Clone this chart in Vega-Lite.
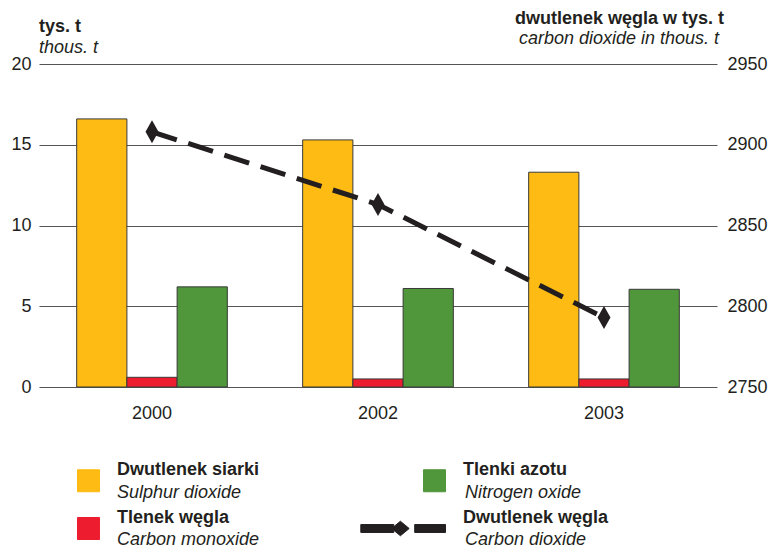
{
  "$schema": "https://vega.github.io/schema/vega-lite/v6.json",
  "width": 678,
  "height": 323,
  "autosize": {"type": "none"},
  "padding": {"left": 39, "top": 64, "right": 53, "bottom": 171},
  "background": "white",
  "config": {
    "font": "Liberation Sans",
    "view": {"stroke": null},
    "axis": {"labelColor": "#231F20", "titleColor": "#231F20", "labelFontSize": 18, "titleFontSize": 18}
  },
  "title": {
    "text": "tys. t",
    "subtitle": "thous. t",
    "anchor": "start",
    "frame": "group",
    "fontSize": 18,
    "fontWeight": "bold",
    "color": "#231F20",
    "subtitleFontSize": 18,
    "subtitleFontStyle": "italic",
    "subtitleColor": "#231F20",
    "subtitlePadding": 3,
    "offset": 8,
    "dy": 56
  },
  "datasets": {
    "bars": [
      {"year": "2000", "pl": "Dwutlenek siarki", "en": "Sulphur dioxide", "value": 16.6},
      {"year": "2000", "pl": "Tlenek węgla", "en": "Carbon monoxide", "value": 0.6},
      {"year": "2000", "pl": "Tlenki azotu", "en": "Nitrogen oxide", "value": 6.2},
      {"year": "2002", "pl": "Dwutlenek siarki", "en": "Sulphur dioxide", "value": 15.3},
      {"year": "2002", "pl": "Tlenek węgla", "en": "Carbon monoxide", "value": 0.5},
      {"year": "2002", "pl": "Tlenki azotu", "en": "Nitrogen oxide", "value": 6.1},
      {"year": "2003", "pl": "Dwutlenek siarki", "en": "Sulphur dioxide", "value": 13.3},
      {"year": "2003", "pl": "Tlenek węgla", "en": "Carbon monoxide", "value": 0.5},
      {"year": "2003", "pl": "Tlenki azotu", "en": "Nitrogen oxide", "value": 6.05}
    ],
    "co2": [
      {"year": "2000", "pl": "Dwutlenek węgla", "en": "Carbon dioxide", "value": 2908},
      {"year": "2002", "pl": "Dwutlenek węgla", "en": "Carbon dioxide", "value": 2863},
      {"year": "2003", "pl": "Dwutlenek węgla", "en": "Carbon dioxide", "value": 2793}
    ]
  },
  "encoding": {
    "x": {
      "field": "year",
      "type": "nominal",
      "scale": {"paddingInner": 0.3333, "paddingOuter": 0.1667},
      "axis": {
        "title": "carbon dioxide in thous. t",
        "titleFontStyle": "italic",
        "titleFontWeight": "normal",
        "titleX": 579.5,
        "titleY": -344,
        "titleAlign": "center",
        "titleBaseline": "alphabetic",
        "labelAngle": 0,
        "labelPadding": 17,
        "ticks": false,
        "domain": false
      }
    },
    "color": {
      "field": "pl",
      "type": "nominal",
      "scale": {
        "domain": ["Dwutlenek siarki", "Tlenek węgla", "Tlenki azotu", "Dwutlenek węgla"],
        "range": ["#FDBB13", "#ED1C2E", "#50963A", "#231F20"]
      },
      "legend": {
        "orient": "none",
        "legendX": 38,
        "legendY": 405,
        "columns": 2,
        "title": null,
        "padding": 0,
        "symbolType": "square",
        "symbolSize": 484,
        "symbolStrokeColor": "#3a3a3a",
        "symbolStrokeWidth": 1,
        "labelFontSize": 18,
        "labelFontWeight": "bold",
        "labelColor": "#231F20",
        "labelOffset": 17,
        "labelLimit": 400,
        "labelBaseline": "alphabetic",
        "columnPadding": 98,
        "rowPadding": 14,
        "encode": {
          "labels": {"update": {"dy": {"value": -6}}},
          "symbols": {"update": {
            "shape": {"signal": "datum.value === 'Dwutlenek węgla' ? 'M-6.7,-0.36L-3.7,-0.36L-3.7,0.36L-6.7,0.36ZM-3.9,0L-3.1,-0.66L-2.3,0L-3.1,0.66ZM-1.8,-0.36L1,-0.36L1,0.36L-1.8,0.36Z' : 'square'"},
            "opacity": {"value": 1}
          }}
        }
      }
    },
    "opacity": {
      "field": "en",
      "type": "nominal",
      "scale": {
        "domain": ["Sulphur dioxide", "Carbon monoxide", "Nitrogen oxide", "Carbon dioxide"],
        "range": [1, 1]
      },
      "legend": {
        "orient": "none",
        "legendX": 38,
        "legendY": 405,
        "columns": 2,
        "title": null,
        "padding": 0,
        "symbolType": "square",
        "symbolSize": 484,
        "symbolStrokeWidth": 1,
        "symbolFillColor": "transparent",
        "symbolStrokeColor": "transparent",
        "symbolOpacity": 0,
        "labelFontSize": 18,
        "labelFontStyle": "italic",
        "labelColor": "#231F20",
        "labelOffset": 17,
        "labelLimit": 400,
        "labelBaseline": "alphabetic",
        "columnPadding": 102,
        "rowPadding": 14,
        "encode": {
          "labels": {"update": {"dy": {"value": 17}}},
          "symbols": {"update": {
            "shape": {"signal": "datum.value === 'Carbon dioxide' ? 'M-6.7,-0.36L-3.7,-0.36L-3.7,0.36L-6.7,0.36ZM-3.9,0L-3.1,-0.66L-2.3,0L-3.1,0.66ZM-1.8,-0.36L1,-0.36L1,0.36L-1.8,0.36Z' : 'square'"},
            "opacity": {"value": 0},
            "fill": {"value": "transparent"},
            "stroke": {"value": "transparent"},
            "fillOpacity": {"value": 0},
            "strokeOpacity": {"value": 0}
          }}
        }
      }
    }
  },
  "layer": [
    {
      "data": {"name": "bars"},
      "mark": {"type": "bar", "stroke": "#3a3a3a", "strokeWidth": 1},
      "encoding": {
        "xOffset": {
          "field": "pl",
          "type": "nominal",
          "scale": {"domain": ["Dwutlenek siarki", "Tlenek węgla", "Tlenki azotu"], "paddingInner": 0, "paddingOuter": 0}
        },
        "y": {
          "field": "value",
          "type": "quantitative",
          "scale": {"domain": [0, 20], "nice": false},
          "axis": {
            "title": null,
            "values": [0, 5, 10, 15, 20],
            "grid": true,
            "gridColor": "#555555",
            "gridWidth": 1,
            "ticks": false,
            "domain": false,
            "labelPadding": 8
          }
        }
      }
    },
    {
      "data": {"name": "co2"},
      "mark": {
        "type": "line",
        "strokeWidth": 5,
        "strokeDash": [26, 12],
        "point": {"filled": true, "shape": "M0,-1.28L0.72,0L0,1.28L-0.72,0Z", "size": 324}
      },
      "encoding": {
        "y": {
          "field": "value",
          "type": "quantitative",
          "scale": {"domain": [2750, 2950], "nice": false},
          "axis": {
            "orient": "right",
            "format": "d",
            "title": "dwutlenek węgla w tys. t",
            "titleAngle": 0,
            "titleX": -98,
            "titleY": -41,
            "titleAlign": "center",
            "titleBaseline": "alphabetic",
            "titleFontWeight": "bold",
            "values": [2750, 2800, 2850, 2900, 2950],
            "grid": false,
            "ticks": false,
            "domain": false,
            "labelPadding": 10
          }
        }
      }
    }
  ],
  "resolve": {"scale": {"y": "independent"}}
}
